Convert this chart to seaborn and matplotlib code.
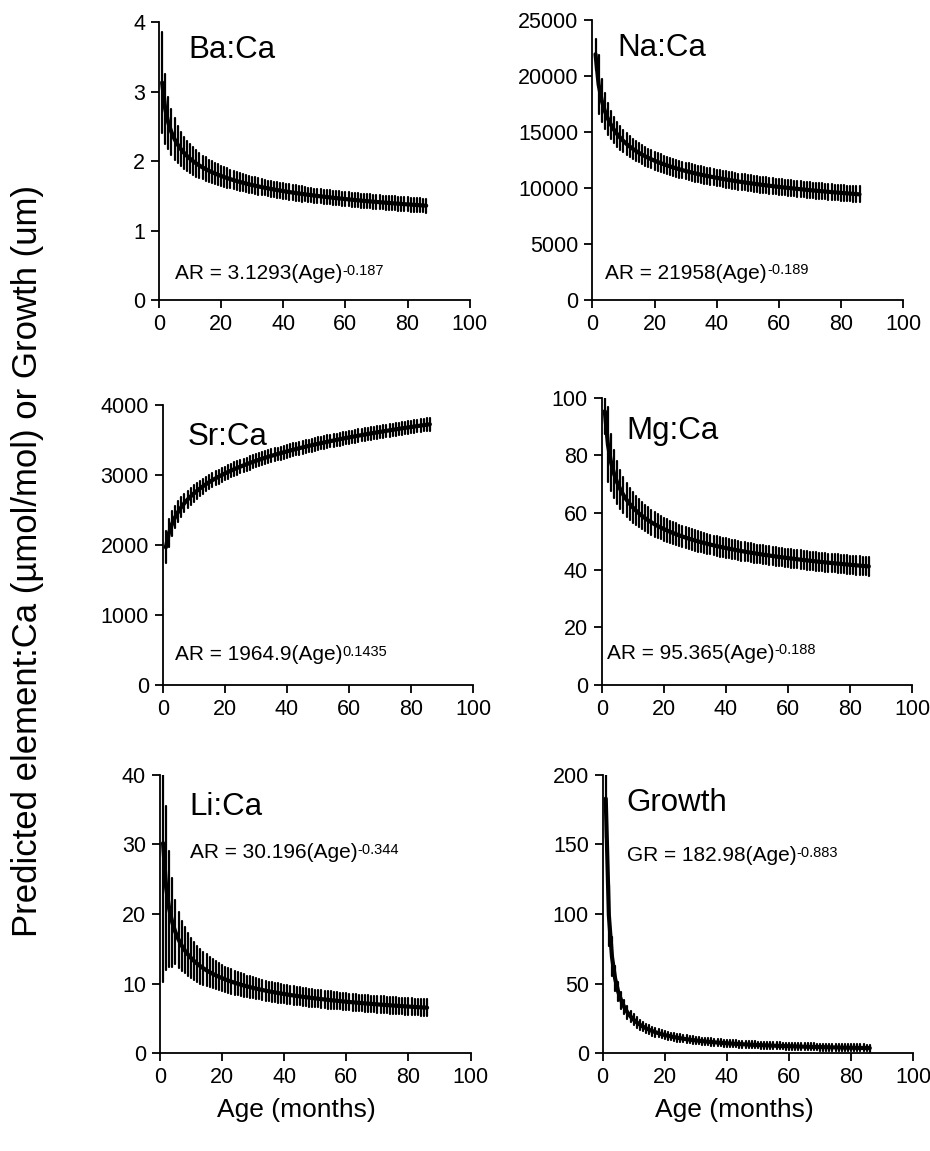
import matplotlib
matplotlib.use("Agg")
import numpy as np
import pandas as pd
import seaborn as sns
import matplotlib.pyplot as plt

# ---------------- data ----------------
ages = list(range(1, 87))
panels = ["Ba:Ca", "Na:Ca", "Sr:Ca", "Mg:Ca", "Li:Ca", "Growth"]
# fitted power-law model shown on each panel: value = a * Age^b
coef_a = [3.1293, 21958, 1964.9, 95.365, 30.196, 182.98]
coef_b = [-0.187, -0.189, 0.1435, -0.188, -0.344, -0.883]
eq_text = ["AR = 3.1293(Age)", "AR = 21958(Age)", "AR = 1964.9(Age)",
           "AR = 95.365(Age)", "AR = 30.196(Age)", "GR = 182.98(Age)"]
eq_exp = ["-0.187", "-0.189", "0.1435", "-0.188", "-0.344", "-0.883"]
y_max = [4, 25000, 4000, 100, 40, 200]
y_step = [1, 5000, 1000, 20, 10, 50]
x_ticks = [0, 20, 40, 60, 80, 100]

# error-bar half widths (one per age)
err_ba = [0.72, 0.50, 0.38, 0.33, 0.30, 0.27, 0.25, 0.23, 0.22, 0.21,
          0.20, 0.19, 0.18, 0.17, 0.17, 0.16, 0.16, 0.15, 0.15, 0.14,
          0.14, 0.14, 0.13, 0.13, 0.13, 0.13, 0.12, 0.12, 0.12, 0.12,
          0.12, 0.12, 0.11, 0.11, 0.11, 0.11, 0.11, 0.11, 0.11, 0.11,
          0.11, 0.11, 0.11, 0.11, 0.11, 0.11, 0.10, 0.10, 0.10, 0.10,
          0.10, 0.10, 0.10, 0.10, 0.10, 0.10, 0.10, 0.10, 0.10, 0.10,
          0.10, 0.10, 0.10, 0.10, 0.10, 0.10, 0.10, 0.10, 0.10, 0.10,
          0.10, 0.10, 0.10, 0.10, 0.10, 0.10, 0.10, 0.10, 0.10, 0.10,
          0.10, 0.10, 0.10, 0.10, 0.10, 0.10]
err_na = [1400, 2600, 1900, 1600, 1400, 1250, 1150, 1100, 1050, 1000,
          960, 930, 900, 880, 860, 840, 820, 810, 800, 790,
          780, 775, 770, 765, 760, 755, 750, 748, 745, 742,
          740, 738, 736, 734, 732, 730, 728, 726, 724, 722,
          720, 719, 718, 717, 716, 715, 714, 713, 712, 711,
          710, 710, 709, 709, 708, 708, 707, 707, 706, 706,
          705, 705, 704, 704, 703, 703, 702, 702, 701, 701,
          700, 700, 700, 700, 700, 700, 700, 700, 700, 700,
          700, 700, 700, 700, 700, 700]
err_sr = [230, 200, 180, 160, 150, 140, 130, 125, 120, 115,
          112, 110, 108, 106, 104, 102, 100, 100, 98, 98,
          97, 97, 96, 96, 95, 95, 95, 94, 94, 94,
          93, 93, 93, 93, 92, 92, 92, 92, 92, 92,
          91, 91, 91, 91, 91, 91, 91, 91, 91, 91,
          90, 90, 90, 90, 90, 90, 90, 90, 90, 90,
          90, 90, 90, 90, 90, 90, 90, 90, 90, 90,
          90, 90, 90, 90, 90, 90, 90, 90, 90, 90,
          90, 90, 90, 90, 90, 90]
err_mg = [8.0, 13.0, 10.0, 8.5, 7.5, 6.8, 6.3, 5.9, 5.6, 5.3,
          5.1, 4.9, 4.7, 4.6, 4.5, 4.4, 4.3, 4.2, 4.1, 4.0,
          3.95, 3.9, 3.85, 3.8, 3.75, 3.7, 3.65, 3.6, 3.6, 3.55,
          3.55, 3.5, 3.5, 3.45, 3.45, 3.4, 3.4, 3.4, 3.35, 3.35,
          3.35, 3.3, 3.3, 3.3, 3.3, 3.25, 3.25, 3.25, 3.25, 3.2,
          3.2, 3.2, 3.2, 3.2, 3.2, 3.2, 3.2, 3.2, 3.2, 3.2,
          3.2, 3.2, 3.2, 3.2, 3.2, 3.2, 3.2, 3.2, 3.2, 3.2,
          3.2, 3.2, 3.2, 3.2, 3.2, 3.2, 3.2, 3.2, 3.2, 3.2,
          3.2, 3.2, 3.2, 3.2, 3.2, 3.2]
err_li = [20.0, 11.8, 8.3, 6.4, 4.6, 4.0, 3.6, 3.3, 3.1, 2.9,
          2.75, 2.6, 2.5, 2.4, 2.3, 2.2, 2.1, 2.0, 1.95, 1.9,
          1.85, 1.8, 1.75, 1.7, 1.65, 1.6, 1.6, 1.55, 1.55, 1.5,
          1.5, 1.45, 1.45, 1.45, 1.4, 1.4, 1.4, 1.4, 1.35, 1.35,
          1.35, 1.35, 1.3, 1.3, 1.3, 1.3, 1.3, 1.3, 1.25, 1.25,
          1.25, 1.25, 1.25, 1.25, 1.25, 1.25, 1.2, 1.2, 1.2, 1.2,
          1.2, 1.2, 1.2, 1.2, 1.2, 1.2, 1.2, 1.2, 1.2, 1.2,
          1.2, 1.2, 1.2, 1.2, 1.2, 1.2, 1.2, 1.2, 1.2, 1.2,
          1.2, 1.2, 1.2, 1.2, 1.2, 1.2]
err_gr = [28.0, 22.0, 14.0, 9.0, 7.0, 6.0, 5.0, 4.5, 4.2, 4.0,
          3.8, 3.6, 3.5, 3.4, 3.3, 3.2, 3.1, 3.0, 3.0, 2.9,
          2.9, 2.8, 2.8, 2.8, 2.7, 2.7, 2.7, 2.7, 2.6, 2.6,
          2.6, 2.6, 2.6, 2.6, 2.6, 2.5, 2.5, 2.5, 2.5, 2.5,
          2.5, 2.5, 2.5, 2.5, 2.5, 2.5, 2.5, 2.5, 2.5, 2.5,
          2.5, 2.5, 2.5, 2.5, 2.5, 2.5, 2.5, 2.5, 2.5, 2.5,
          2.5, 2.5, 2.5, 2.5, 2.5, 2.5, 2.5, 2.5, 2.5, 2.5,
          2.5, 2.5, 2.5, 2.5, 2.5, 2.5, 2.5, 2.5, 2.5, 2.5,
          2.5, 2.5, 2.5, 2.5, 2.5, 2.5]
errors = [err_ba, err_na, err_sr, err_mg, err_li, err_gr]

# ---------------- style ----------------
sns.set_theme(style="ticks")
plt.rcParams["font.family"] = ["Liberation Sans", "DejaVu Sans"]

fig = plt.figure(figsize=(9.3, 11.51), dpi=100)
fig.patch.set_facecolor("white")

rects = [
    [0.171, 0.739, 0.334, 0.242],
    [0.637, 0.739, 0.334, 0.2435],
    [0.175, 0.405, 0.334, 0.2432],
    [0.647, 0.405, 0.334, 0.2493],
    [0.172, 0.0851, 0.334, 0.2416],
    [0.648, 0.0851, 0.334, 0.2416],
]
title_pos = [(0.093, 0.90), (0.08, 0.90), (0.08, 0.886),
             (0.08, 0.885), (0.096, 0.885), (0.077, 0.90)]
eq_pos = [(0.05, 0.097), (0.042, 0.097), (0.04, 0.107),
          (0.016, 0.11), (0.096, 0.72), (0.077, 0.71)]

for i, name in enumerate(panels):
    ax = fig.add_axes(rects[i])
    ax.set_facecolor("white")
    ages_arr = np.array(ages, dtype=float)
    mean = coef_a[i] * ages_arr ** coef_b[i]
    err = np.array(errors[i], dtype=float)
    df = pd.DataFrame({
        "age": np.concatenate([ages_arr, ages_arr]),
        "value": np.concatenate([mean - err, mean + err]),
    })
    sns.lineplot(data=df, x="age", y="value", ax=ax, color="black",
                 linewidth=3.0, estimator="mean",
                 errorbar=lambda v: (v.min(), v.max()),
                 err_style="bars",
                 err_kws={"linewidth": 1.6, "capsize": 0, "ecolor": "black"},
                 legend=False)
    ax.set_xlim(0, 100)
    ax.set_ylim(0, y_max[i])
    ax.set_xticks(x_ticks)
    ax.set_yticks(np.arange(0, y_max[i] + y_step[i] / 2, y_step[i]))
    ax.set_xlabel("")
    ax.set_ylabel("")
    for s in ["top", "right"]:
        ax.spines[s].set_visible(False)
    for s in ["left", "bottom"]:
        ax.spines[s].set_linewidth(1.3)
        ax.spines[s].set_color("black")
    ax.tick_params(direction="out", length=6, width=1.3, colors="black",
                   labelsize=15.5, pad=4)
    ax.text(title_pos[i][0], title_pos[i][1], name, transform=ax.transAxes,
            fontsize=22.5, ha="left", va="center", color="black")
    t = ax.text(eq_pos[i][0], eq_pos[i][1], eq_text[i],
                transform=ax.transAxes, fontsize=15, ha="left",
                va="center", color="black")
    ax.annotate(eq_exp[i], xy=(1.0, 1.02), xycoords=t, ha="left",
                va="top", fontsize=10.5, color="black")

fig.text(0.03, 0.513, "Predicted element:Ca (µmol/mol) or Growth (um)",
         rotation=90, ha="center", va="center", fontsize=25, color="black")
fig.text(0.319, 0.0356, "Age (months)", ha="center", va="center",
         fontsize=19, color="black")
fig.text(0.79, 0.0356, "Age (months)", ha="center", va="center",
         fontsize=19, color="black")

fig.savefig("out.png", dpi=100, facecolor="white")
